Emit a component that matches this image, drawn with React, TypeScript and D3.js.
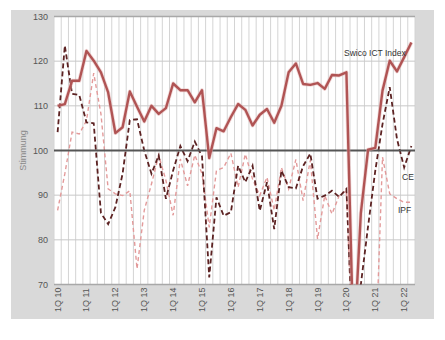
import React from "react";
import * as d3 from "d3";

const years = ["10","11","12","13","14","15","16","17","18","19","20","21","22"];
const quarterNames = ["1Q","2Q","3Q","4Q"];
const categories: string[] = [];
years.forEach((yr) => quarterNames.forEach((q) => categories.push(`${q} ${yr}`)));
const cats = categories.slice(0, 50);

const swico = [110,110.4,115.6,115.6,122.3,120.1,117.5,113,103.9,105.2,113.2,109.8,106.5,110,108.2,109.5,115,113.5,113.5,110.8,113.5,98.3,105,104.3,107.5,110.4,109.1,105.6,108,109.3,106.2,110,117.5,119.5,114.9,114.7,115.1,113.8,116.9,116.8,117.5,55,86,100.2,100.6,113.4,120.1,117.7,120.9,124.2];
const ce = [104.1,123.5,112.7,112.4,106.3,106.1,86,83.5,87.3,94.8,106.8,107,100,94.8,98.9,89.2,95.5,101,97.6,102,98.7,71.6,89.5,85.4,86.2,96.6,92.9,96.6,86.5,92.9,82.4,95.5,91.8,91.5,96.5,99.3,89.2,89.9,91,89.6,91.4,52,70,83,95.5,105.9,114.2,102.6,96.2,101];
const ipf = [86.6,94.8,104.1,103.7,106.7,117.3,108.2,91.4,90.3,89.9,91,73.5,86.6,92.5,98.9,93.3,85.5,98.1,92.1,99,94.8,82.8,95.5,96.2,99.4,91.8,99.2,93.6,89.9,94,86.6,96.2,91.4,98,88.8,97.8,80.2,89.9,85.8,89.9,91,50,48,48,52,98.5,90.3,89.2,88.4,88.4];
const yTicks = [70,80,90,100,110,120,130];
const xLabelEvery = 4;

export default function App() {
  const L = 54, R = 415, T = 16.5, B = 284.5;
  const x = d3.scaleBand<string>().domain(cats).range([L, R]).padding(0);
  const y = d3.scaleLinear().domain([70, 130]).range([B, T]);
  const bw = x.bandwidth();
  const cx = (i: number) => (x(cats[i]) as number) + bw / 2;
  const line = d3.line<number>().x((_, i) => cx(i)).y((d) => y(d));
  const font = "'Liberation Sans', Arial, sans-serif";

  return (
    <svg width={445} height={340} style={{ position: "absolute", left: 0, top: 0 }} fontFamily={font}>
      <rect x={0} y={0} width={445} height={340} fill="#fff" />
      <rect x={11} y={10} width={423} height={309} fill="#d9d9d9" />
      <rect x={L} y={T} width={R - L} height={B - T} fill="#fff" />
      <defs>
        <clipPath id="plot">
          <rect x={L} y={T} width={R - L} height={B - T} />
        </clipPath>
      </defs>
      {cats.map((c, i) => (
        <line key={"v" + i} x1={x(c) as number} x2={x(c) as number} y1={T} y2={B} stroke="#d4d4d4" strokeWidth={1} />
      ))}
      <line x1={R} x2={R} y1={T} y2={B} stroke="#d4d4d4" />
      {yTicks.filter((t) => t !== 100 && t !== 70 && t !== 130).map((t) => (
        <line key={"h" + t} x1={L} x2={R} y1={y(t)} y2={y(t)} stroke="#c8c8c8" strokeWidth={1} />
      ))}
      <line x1={L} x2={R} y1={y(130)} y2={y(130)} stroke="#a8a8a8" strokeWidth={1.5} />
      <line x1={L} x2={R} y1={y(70)} y2={y(70)} stroke="#a8a8a8" strokeWidth={1.5} />
      {yTicks.map((t) => (
        <text key={"t" + t} x={48} y={y(t) + 3} textAnchor="end" fontSize={9} fill="#555">{t}</text>
      ))}
      {cats.map((c, i) =>
        i % xLabelEvery === 0 ? (
          <text key={"xl" + i} transform={`translate(${cx(i) + 3},${312}) rotate(-90)`} fontSize={9} fill="#555">{c}</text>
        ) : null
      )}
      <text transform={`translate(26,${y(100)}) rotate(-90)`} textAnchor="middle" fontSize={9} fill="#8a8a8a">Stimmung</text>
      <g clipPath="url(#plot)">
        <path d={line(ipf) || ""} fill="none" stroke="#e39a9a" strokeWidth={1.4} strokeDasharray="4,3" />
        <path d={line(ce) || ""} fill="none" stroke="#5c2222" strokeWidth={1.8} strokeDasharray="5,3" />
        <line x1={L} x2={R} y1={y(100)} y2={y(100)} stroke="#555" strokeWidth={2} />
        <path d={line(swico) || ""} fill="none" stroke="#e6b5b5" strokeWidth={4} strokeLinejoin="round" opacity={0.5} />
        <path d={line(swico) || ""} fill="none" stroke="#b05454" strokeWidth={2.4} strokeLinejoin="round" />
      </g>
      <text x={344} y={56} fontSize={8.5} fill="#333">Swico ICT Index</text>
      <text x={402} y={180} fontSize={8.5} fill="#333">CE</text>
      <text x={398} y={213} fontSize={8.5} fill="#333">IPF</text>
    </svg>
  );
}
